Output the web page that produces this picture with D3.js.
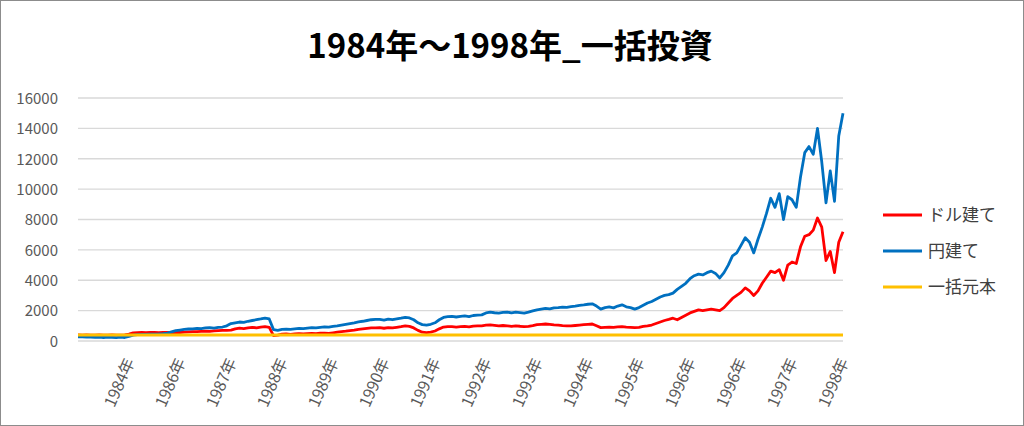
<!DOCTYPE html>
<html><head><meta charset="utf-8">
<script src="https://cdn.jsdelivr.net/npm/d3@7"></script>
<style>
html,body{margin:0;padding:0;background:#fff;}
svg{display:block;}
</style></head>
<body>
<svg id="chart" width="1024" height="426"></svg>
<script>
const title = "1984年～1998年_一括投資";
const seriesNames = ["ドル建て", "円建て", "一括元本"];
const seriesColors = ["#FF0000", "#0070C0", "#FFC000"];
const yTicks = [0, 2000, 4000, 6000, 8000, 10000, 12000, 14000, 16000];
const xLabels = ["1984年","1986年","1987年","1988年","1989年","1990年","1991年","1992年","1993年","1994年","1995年","1996年","1996年","1997年","1998年"];
const labelStep = 12;

// ドル建て (index 0..180)
const dollarValues = [
 400,390,400,380,390,400,380,390,400,390,380,400,
 450,540,550,560,550,560,560,550,570,560,560,570,
 560,580,600,620,620,640,650,640,660,680,700,700,
 720,800,850,820,860,900,870,920,950,900,350,380,
 450,460,440,470,480,460,490,500,480,510,520,500,
 540,580,620,650,690,720,770,800,830,860,870,880,
 840,880,860,900,940,990,960,860,700,580,550,580,
 660,800,920,950,940,920,940,960,930,980,990,1000,
 1040,1060,1030,1000,1020,1000,960,990,970,940,970,1020,
 1080,1100,1120,1090,1060,1040,1010,1000,990,1020,1050,1080,
 1100,1120,1000,880,900,920,900,930,950,920,900,880,
 900,960,1000,1050,1150,1250,1350,1420,1500,1400,1550,1700,
 1850,1950,2050,2000,2050,2100,2050,2000,2200,2500,2800,3000,
 3200,3500,3300,3000,3300,3800,4200,4600,4500,4700,4000,5000,
 5200,5100,6200,6900,7000,7300,8100,7500,5300,5900,4500,6500,
 7200
];
// 円建て (index 0..180)
const yenValues = [
 280,270,260,250,240,250,230,260,240,220,250,230,
 300,380,420,430,440,450,450,460,480,520,600,680,
 720,760,790,800,830,820,860,880,850,900,920,1000,
 1150,1200,1250,1230,1300,1350,1400,1450,1510,1450,750,700,
 760,780,770,800,830,810,850,880,860,900,930,910,
 960,1000,1050,1100,1150,1200,1260,1300,1350,1400,1420,1430,
 1380,1440,1400,1450,1500,1560,1520,1400,1200,1080,1050,1100,
 1200,1400,1550,1600,1620,1580,1620,1650,1600,1680,1700,1720,
 1850,1900,1860,1830,1880,1900,1850,1900,1870,1830,1900,1980,
 2050,2100,2150,2120,2180,2200,2230,2210,2260,2300,2350,2380,
 2420,2450,2300,2100,2200,2250,2180,2300,2380,2250,2200,2100,
 2200,2350,2500,2600,2750,2900,3000,3050,3150,3400,3600,3800,
 4100,4300,4400,4350,4500,4600,4450,4150,4500,5000,5600,5800,
 6300,6800,6500,5800,6700,7500,8400,9400,8800,9700,8000,9500,
 9300,8800,10800,12400,12800,12300,14000,11800,9100,11200,9200,13500,
 15000
];
// 一括元本 (constant principal, start/end)
const principalIdx = [0, 180];
const principalValues = [400, 400];

const svg = d3.select("#chart");
const W = 1024, H = 426;
const plot = {left: 78, right: 843, top: 98, bottom: 341};
const font = "'Noto Sans CJK JP','Noto Sans',sans-serif";

svg.append("rect").attr("x",0.5).attr("y",0.5).attr("width",W-1).attr("height",H-1)
  .attr("fill","#fff").attr("stroke","#8c8c8c").attr("stroke-width",1);

const x = d3.scaleLinear().domain([0, dollarValues.length-1]).range([plot.left, plot.right]);
const y = d3.scaleLinear().domain([0, 16000]).range([plot.bottom, plot.top]);

// gridlines
svg.append("g").selectAll("line").data(yTicks).join("line")
  .attr("x1",plot.left).attr("x2",plot.right)
  .attr("y1",d=>y(d)).attr("y2",d=>y(d))
  .attr("stroke","#d9d9d9").attr("stroke-width",1.3);

// y axis labels
const yAxis = d3.axisLeft(y).tickValues(yTicks).tickSize(0).tickPadding(0).tickFormat(d3.format("d"));
const gy = svg.append("g").attr("transform",`translate(${plot.left-20},0)`).call(yAxis);
gy.select(".domain").remove();
gy.selectAll("text").attr("font-family",font).attr("font-size",15).attr("fill","#595959").attr("dy","0.35em");

// x axis labels
const labelData = xLabels.map((t,i)=>({t, idx:(i+1)*labelStep}));
svg.append("g").selectAll("text").data(labelData).join("text")
  .attr("transform",d=>`translate(${x(d.idx)+1},359) rotate(-66)`)
  .attr("text-anchor","end").attr("dy","0.35em")
  .attr("font-family",font).attr("font-size",16).attr("fill","#595959")
  .text(d=>d.t);

const line = d3.line().x((d,i)=>x(i)).y(d=>y(d));
svg.append("path").datum(dollarValues).attr("d",line)
  .attr("fill","none").attr("stroke",seriesColors[0]).attr("stroke-width",2.8).attr("stroke-linejoin","round");
svg.append("path").datum(yenValues).attr("d",line)
  .attr("fill","none").attr("stroke",seriesColors[1]).attr("stroke-width",2.8).attr("stroke-linejoin","round");
const pline = d3.line().x((d,i)=>x(principalIdx[i])).y(d=>y(d));
svg.append("path").datum(principalValues).attr("d",pline)
  .attr("fill","none").attr("stroke",seriesColors[2]).attr("stroke-width",3);

// title
svg.append("text").attr("x",510).attr("y",58).attr("text-anchor","middle")
  .attr("font-family",font).attr("font-weight","bold").attr("font-size",33).attr("fill","#000")
  .text(title);

// legend
const legY = [215, 251, 287];
const leg = svg.append("g");
seriesNames.forEach((n,i)=>{
  leg.append("line").attr("x1",883).attr("x2",922).attr("y1",legY[i]).attr("y2",legY[i])
    .attr("stroke",seriesColors[i]).attr("stroke-width",3);
  leg.append("text").attr("x",928).attr("y",legY[i]).attr("dy","0.36em")
    .attr("font-family",font).attr("font-size",17).attr("fill","#404040").text(n);
});
</script>
</body></html>
